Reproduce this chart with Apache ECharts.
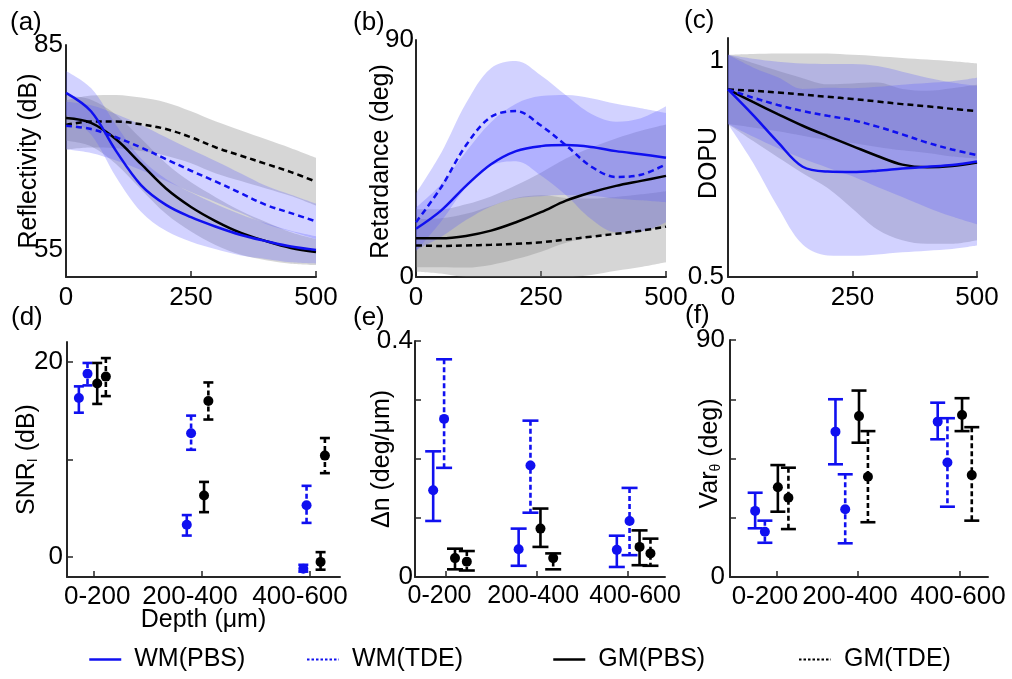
<!DOCTYPE html>
<html><head><meta charset="utf-8">
<script src="https://cdn.jsdelivr.net/npm/echarts@6/dist/echarts.min.js"></script>
<style>html,body{margin:0;padding:0;background:#fff}#c{width:1012px;height:679px}</style>
</head><body><div id="c"></div>
<script>
// ---------- data ----------
const seriesNames = ['WM(PBS)','WM(TDE)','GM(PBS)','GM(TDE)'];
const depthGroups = ['0-200','200-400','400-600'];
const depth = [0,50,100,150,200,250,300,350,400,450,500];

// (a) Reflectivity (dB): mean and spread
const aWmPbs = [78.0,75.3,69.5,64.5,61.6,59.8,58.4,57.2,56.3,55.5,55.0];
const aWmTde = [73.2,72.7,71.5,70.0,68.3,66.6,65.0,63.3,61.6,60.4,59.2];
const aGmPbs = [74.3,73.6,71.2,67.6,64.0,61.3,59.2,57.5,56.3,55.3,54.7];
const aGmTde = [73.3,73.8,73.8,73.4,72.7,71.5,70.0,68.8,67.6,66.4,65.0];
const aWmPbsSd = [3.2,3.4,3.8,3.9,3.8,3.6,3.3,3.0,2.6,2.3,2.0];
const aWmTdeSd = [3.5,3.5,3.4,3.3,3.2,3.1,3.0,2.9,2.8,2.7,2.6];
const aGmPbsSd = [3.3,3.4,3.6,3.7,3.7,3.6,3.5,3.2,2.8,2.3,1.9];
const aGmTdeSd = [3.6,3.8,3.9,3.9,3.9,3.8,3.8,3.7,3.6,3.5,3.5];

// (b) Retardance (deg)
const bWmPbs = [18.3,25.2,34.6,42.8,47.8,49.7,50.1,49.4,47.8,46.6,45.3];
const bWmTde = [20.8,34.0,50.0,60.8,63.0,57.5,50.0,42.0,38.0,38.8,42.8];
const bGmPbs = [14.7,14.7,15.6,17.6,20.8,24.6,29.0,32.1,34.6,36.5,38.4];
const bGmTde = [12.0,11.8,12.0,12.2,12.6,13.2,14.2,15.3,16.4,17.6,19.1];
const bWmPbsSd = [8,10,13,16,18,19,19,18.5,18,17.5,17];
const bWmTdeSd = [11,13,16,18.5,19,19,19,20,21,21.5,22];
const bGmPbsSd = [11,11,12,13,14,15,16,17,18,19,19.5];
const bGmTdeSd = [10,10.5,12,13.5,15,15.5,15,14.5,14,13.8,13.5];

// (c) DOPU
const cWmPbs = [0.934,0.875,0.812,0.755,0.744,0.743,0.746,0.751,0.755,0.759,0.767];
const cWmTde = [0.934,0.915,0.898,0.884,0.873,0.863,0.848,0.830,0.811,0.795,0.782];
const cGmPbs = [0.934,0.905,0.877,0.850,0.826,0.803,0.780,0.760,0.754,0.757,0.765];
const cGmTde = [0.934,0.931,0.927,0.922,0.917,0.912,0.906,0.900,0.895,0.889,0.884];
const cWmPbsSd = [0.08,0.11,0.15,0.18,0.194,0.194,0.194,0.194,0.194,0.194,0.194];
const cWmTdeSd = [0.08,0.09,0.1,0.11,0.12,0.13,0.14,0.145,0.15,0.155,0.16];
const cGmPbsSd = [0.08,0.09,0.1,0.11,0.12,0.145,0.17,0.175,0.177,0.18,0.18];
const cGmTdeSd = [0.08,0.085,0.09,0.095,0.1,0.102,0.105,0.107,0.108,0.11,0.11];

// (d) SNR_I (dB): x position (group units), mean, low, high
const dX = [[0.86,1.86,2.94],[0.94,1.90,2.97],[1.03,2.02,3.10],[1.11,2.06,3.14]];
const dMean = [[16.3,3.3,-1.2],[18.8,12.7,5.3],[17.8,6.3,-0.5],[18.5,16.0,10.4]];
const dLow  = [[14.8,2.2,-1.5],[17.6,11.0,3.5],[15.7,4.6,-1.3],[16.5,14.1,8.6]];
const dHigh = [[17.5,4.3,-0.8],[19.9,14.5,7.3],[19.9,7.7,0.5],[20.4,17.9,12.2]];

// (e) Δn (deg/μm)
const eX = [[0.86,1.80,2.88],[0.98,1.93,3.02],[1.10,2.04,3.13],[1.23,2.18,3.25]];
const eMean = [[0.147,0.047,0.046],[0.268,0.189,0.095],[0.032,0.082,0.051],[0.026,0.032,0.040]];
const eLow  = [[0.095,0.019,0.017],[0.185,0.109,0.037],[0.013,0.051,0.020],[0.011,0.013,0.019]];
const eHigh = [[0.213,0.082,0.070],[0.369,0.265,0.151],[0.048,0.116,0.079],[0.044,0.040,0.065]];

// (f) Var_θ (deg)
const fX = [[0.73,1.72,2.98],[0.85,1.84,3.10],[1.01,2.01,3.28],[1.14,2.12,3.40]];
const fMean = [[25.1,55.2,59.0],[17.2,25.7,43.5],[34.1,61.1,61.5],[30.1,38.1,38.7]];
const fLow  = [[18.5,42.8,52.3],[13.0,12.8,26.7],[24.8,51.0,55.4],[18.2,20.8,21.4]];
const fHigh = [[32.0,67.5,66.2],[21.4,39.0,60.3],[42.5,70.8,67.9],[41.5,55.4,56.9]];

// ---------- styles ----------
const FONT = 'Liberation Sans, Arial, Helvetica, sans-serif';
const BLUE = '#1010f0';
const sty = [
  {color: BLUE, dash: 'solid', band: 'rgba(87,87,255,0.27)'},
  {color: BLUE, dash: [6,4], band: 'rgba(87,87,255,0.27)'},
  {color: '#000', dash: 'solid', band: 'rgba(128,128,128,0.32)'},
  {color: '#000', dash: [6,4], band: 'rgba(128,128,128,0.32)'}
];
const AX = '#262626';
const LBL = 26;

function yAx(g, o) {
  return Object.assign({
    gridIndex: g, type: 'value',
    axisLine: {show: true, lineStyle: {color: AX, width: 2}},
    splitLine: {show: false},
    nameLocation: 'middle', nameRotate: 90, nameMoveOverlap: false,
    nameTextStyle: {color: '#000', fontSize: 25, fontFamily: FONT}
  }, o);
}
function yTick(vals) { return {inside: true, length: 6, lineStyle: {color: AX, width: 1.5}, customValues: vals}; }
function yLab(vals, margin) { return {color: '#000', fontSize: LBL, fontFamily: FONT, margin: margin, customValues: vals, hideOverlap: false}; }
function nameStyle(pad) { return {color: '#000', fontSize: 25, fontFamily: FONT, padding: pad}; }
function richName(pad) {
  return {color:'#000', fontFamily: FONT, padding: pad, rich: {
    m: {fontSize: 25, fontFamily: FONT, lineHeight: 30},
    s: {fontSize: 14, fontFamily: FONT, lineHeight: 30, padding: [12,0,0,0]}}};
}

function xCat(g) {
  return {gridIndex: g, type: 'category', data: depth.map(String), boundaryGap: false,
    axisLine: {show: true, onZero: false, lineStyle: {color: AX, width: 2}},
    axisTick: {inside: true, length: 6, interval: 4, lineStyle: {color: AX, width: 1.5}},
    axisLabel: {interval: 4, color: '#000', fontSize: LBL, fontFamily: FONT, margin: 8, hideOverlap: false},
    splitLine: {show: false}};
}
function xGrp(g, min, max, ticks, labs, extra) {
  return Object.assign({gridIndex: g, type: 'value', min: min, max: max,
    axisLine: {show: true, onZero: false, lineStyle: {color: AX, width: 2}},
    axisTick: {inside: true, length: 6, lineStyle: {color: AX, width: 1.5}, customValues: ticks},
    axisLabel: {color: '#000', fontSize: LBL, fontFamily: FONT, margin: 7, customValues: labs,
      hideOverlap: false, showMaxLabel: true, showMinLabel: true,
      formatter: v => depthGroups[Math.round(v) - 1]},
    splitLine: {show: false}, nameLocation: 'middle', nameMoveOverlap: false,
    nameTextStyle: {color: '#000', fontSize: 25, fontFamily: FONT}}, extra || {});
}

const series = [];
function profilePanel(g, means, sds, named) {
  [3,2,1,0].forEach(i => {
    const st = 'band' + g + '_' + i;
    series.push({type:'line', xAxisIndex:g, yAxisIndex:g, stack:st,
      data: means[i].map((m,k) => m - sds[i][k]), symbol:'none',
      smooth:0.35, lineStyle:{opacity:0}, silent:true, z:1});
    series.push({type:'line', xAxisIndex:g, yAxisIndex:g, stack:st,
      data: sds[i].map(s => 2*s), symbol:'none',
      smooth:0.35, lineStyle:{opacity:0}, areaStyle:{color: sty[i].band, opacity:1}, silent:true, z:1});
  });
  [3,2,1,0].forEach(i => {
    series.push({type:'line', name: named ? seriesNames[i] : undefined, xAxisIndex:g, yAxisIndex:g,
      data: means[i], symbol:'none', smooth:0.35,
      lineStyle:{color: sty[i].color, width: 2.5, type: sty[i].dash}, itemStyle:{color: sty[i].color}, z:5});
  });
}
function errPanel(g, xs, means, lows, highs, capW) {
  for (let i = 0; i < 4; i++) {
    const dashed = i % 2 === 1;
    series.push({type:'custom', xAxisIndex:g, yAxisIndex:g, silent:true, z:3,
      data: xs[i].map((x,k) => [x, lows[i][k], highs[i][k]]),
      encode: {x: 0, y: [1, 2]},
      renderItem: function (params, api) {
        const t = api.coord([api.value(0), api.value(2)]);
        const b = api.coord([api.value(0), api.value(1)]);
        const s = {stroke: sty[i].color, lineWidth: 2.6, lineDash: dashed ? [5,3] : null};
        const s2 = {stroke: sty[i].color, lineWidth: 2.6};
        return {type:'group', children:[
          {type:'line', shape:{x1:t[0], y1:t[1], x2:b[0], y2:b[1]}, style:s},
          {type:'line', shape:{x1:t[0]-capW/2, y1:t[1], x2:t[0]+capW/2, y2:t[1]}, style:s2},
          {type:'line', shape:{x1:b[0]-capW/2, y1:b[1], x2:b[0]+capW/2, y2:b[1]}, style:s2}
        ]};
      }});
    series.push({type:'scatter', xAxisIndex:g, yAxisIndex:g, silent:true, z:4,
      data: xs[i].map((x,k) => [x, means[i][k]]), symbolSize: 10,
      itemStyle:{color: sty[i].color, opacity:1}});
  }
}

profilePanel(0, [aWmPbs,aWmTde,aGmPbs,aGmTde], [aWmPbsSd,aWmTdeSd,aGmPbsSd,aGmTdeSd], true);
profilePanel(1, [bWmPbs,bWmTde,bGmPbs,bGmTde], [bWmPbsSd,bWmTdeSd,bGmPbsSd,bGmTdeSd], false);
profilePanel(2, [cWmPbs,cWmTde,cGmPbs,cGmTde], [cWmPbsSd,cWmTdeSd,cGmPbsSd,cGmTdeSd], false);
errPanel(3, dX, dMean, dLow, dHigh, 10);
errPanel(4, eX, eMean, eLow, eHigh, 16);
errPanel(5, fX, fMean, fLow, fHigh, 15);

const option = {
  animation: false,
  backgroundColor: '#fff',
  textStyle: {fontFamily: FONT},
  title: [
    ['(a)', 10, 10], ['(b)', 353, 10], ['(c)', 684, 8],
    ['(d)', 11, 305], ['(e)', 353, 305], ['(f)', 685, 303]
  ].map(t => ({text: t[0], left: t[1], top: t[2], padding: 0,
    textStyle: {fontSize: 26, fontWeight: 'normal', color: '#000', fontFamily: FONT}})),
  grid: [
    {left: 66, top: 45, width: 250, height: 232},
    {left: 416, top: 40, width: 250, height: 237},
    {left: 728, top: 38, width: 249, height: 239},
    {left: 67, top: 342, width: 273, height: 235},
    {left: 415, top: 341, width: 250, height: 236},
    {left: 730, top: 340, width: 258, height: 237}
  ],
  xAxis: [
    xCat(0), xCat(1), xCat(2),
    xGrp(3, 0.75, 3.28, [1,2,3], [1.03,1.89,2.91], {name: 'Depth (μm)', nameGap: 31}),
    xGrp(4, 0.66, 3.41, [1,2,3], [0.93,1.96,3.08], {axisLabel: {color: '#000', fontSize: 25, fontFamily: FONT, margin: 7,
      customValues: [0.93,1.96,3.08], hideOverlap: false, formatter: v => depthGroups[Math.round(v) - 1]}}),
    xGrp(5, 0.42, 3.60, [1,2,3.25], [0.85,1.9,3.23])
  ],
  yAxis: [
    yAx(0, {min: 51.05, max: 85, axisTick: yTick([55,65,75,85]), axisLabel: yLab([55,85], 3),
      name: 'Reflectivity (dB)', nameGap: 24}),
    yAx(1, {min: 0, max: 90, axisTick: yTick([0,22.5,45,67.5,90]), axisLabel: yLab([0,90], 2),
      name: 'Retardance (deg)', nameGap: 22, nameTextStyle: nameStyle([0,6,0,0])}),
    yAx(2, {min: 0.5, max: 1.053, axisTick: yTick([0.5,0.75,1]), axisLabel: yLab([0.5,1], 4),
      name: 'DOPU', nameGap: 6, nameTextStyle: nameStyle([0,11,0,0])}),
    yAx(3, {min: -2.05, max: 22.05, axisTick: yTick([0,10,20]), axisLabel: yLab([0,20], 4),
      name: '{m|SNR}{s|I}{m| (dB)}', nameGap: 25, nameTextStyle: richName([0,0,0,0])}),
    yAx(4, {min: 0, max: 0.4, axisTick: yTick([0,0.1,0.2,0.3,0.4]), axisLabel: yLab([0,0.4], 2),
      name: 'Δn (deg/μm)', nameGap: 20}),
    yAx(5, {min: 0, max: 90, axisTick: yTick([0,22.5,45,67.5,90]), axisLabel: yLab([0,90], 5),
      name: '{m|Var}{s|θ}{m| (deg)}', nameGap: 5, nameTextStyle: richName([0,0,0,10])})
  ],
  legend: seriesNames.map((n, i) => ({
    data: [n], left: [88, 306, 552, 798][i], top: 647, itemWidth: 32, itemHeight: 14, padding: 0,
    selectedMode: false, itemStyle: {opacity: 0},
    lineStyle: i % 2 === 1 ? {type: [2.5, 2], width: 2} : {width: 2.5},
    textStyle: {fontSize: 25, fontFamily: FONT, color: '#000', padding: [0,0,0,8]}
  })),
  series: series
};
const chart = echarts.init(document.getElementById('c'), null, {renderer: 'canvas'});
chart.setOption(option);
</script>
</body></html>
